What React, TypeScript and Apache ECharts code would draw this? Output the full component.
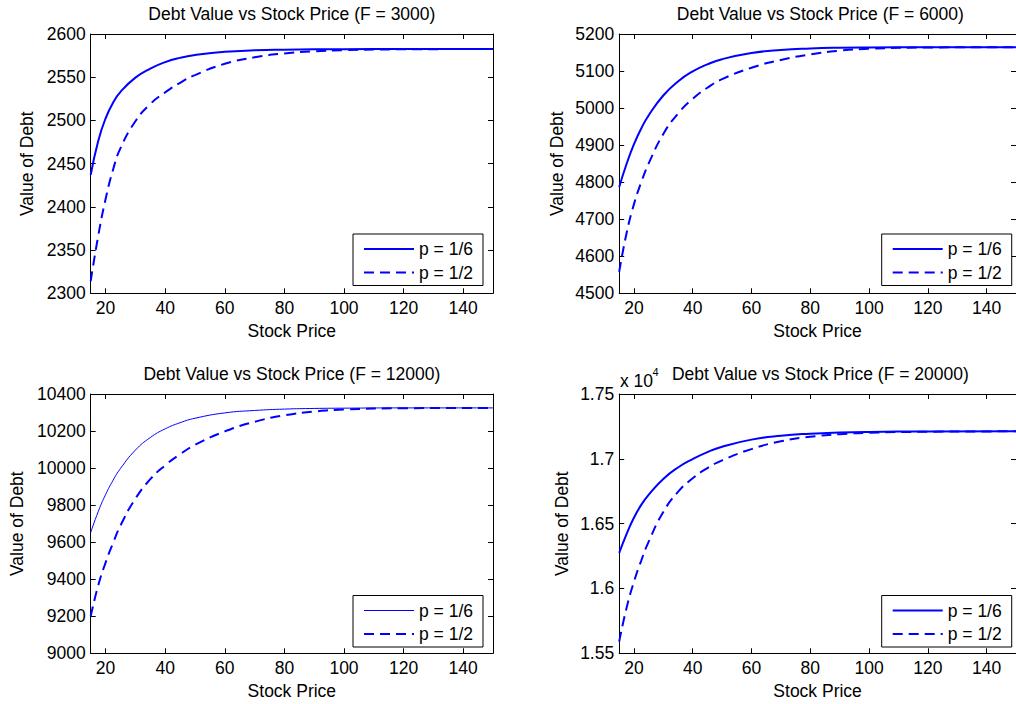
import React, { useEffect, useRef } from "react";
import * as echarts from "echarts";

// ---- data ----
const stockPrice = [15, 17.5, 20, 22.5, 25, 30, 35, 40, 45, 50, 60, 70, 80, 90, 100, 120, 150];

const debtF3000P16 = [2437, 2476, 2502.5, 2520.5, 2533, 2549.5, 2560, 2567.5, 2572.4, 2575.6, 2579.4, 2581.1, 2581.9, 2582.3, 2582.5, 2582.6, 2582.6];
const debtF3000P12 = [2314, 2366, 2409, 2443, 2468, 2499, 2519, 2532.5, 2543.5, 2552.5, 2565.5, 2573, 2577.5, 2580, 2581.3, 2582.3, 2582.6];

const debtF6000P16 = [4787, 4849, 4902, 4945, 4980, 5034, 5072, 5099, 5118, 5132, 5148.5, 5157, 5161, 5163, 5163.8, 5164.3, 5164.5];
const debtF6000P12 = [4558, 4662, 4740, 4800, 4850, 4930, 4985, 5025, 5055, 5078, 5109, 5130, 5145, 5155, 5160, 5163.5, 5164.5];

const debtF12000P16 = [9652, 9764, 9857, 9934, 9998, 10097, 10165, 10212, 10245, 10269, 10298, 10311, 10318.5, 10322, 10323.5, 10325, 10325];
const debtF12000P12 = [9200, 9365, 9490, 9595, 9690, 9835, 9940, 10015, 10075, 10125, 10198, 10250, 10285, 10305, 10316, 10323, 10325];

const debtF20000P16 = [16275, 16420, 16545, 16645, 16722, 16845, 16933, 16998, 17052, 17093, 17148, 17178, 17194, 17203, 17207.5, 17211, 17212];
const debtF20000P12 = [15590, 15850, 16050, 16215, 16360, 16590, 16745, 16850, 16928, 16988, 17075, 17135, 17170, 17190, 17201, 17209, 17212];

const faceValues = [3000, 6000, 12000, 20000];
const seriesP16 = [debtF3000P16, debtF6000P16, debtF12000P16, debtF20000P16];
const seriesP12 = [debtF3000P12, debtF6000P12, debtF12000P12, debtF20000P12];
const legendNames = ["p = 1/6", "p = 1/2"];

const xTicks = [20, 40, 60, 80, 100, 120, 140];
const xMin = 15;
const xMax = 150;
const yMins = [2300, 4500, 9000, 15500];
const yMaxs = [2600, 5200, 10400, 17500];
const yIntervals = [50, 100, 200, 500];

// ---- layout / style ----
const FONT = "'Liberation Sans', Arial, Helvetica, sans-serif";
const FS = 17.5;
const BLUE = "#0000ff";
const gridLeft = [90.7, 619.2, 90.7, 619.2];
const gridTop = [34, 34, 394, 394];
const gridW = 402.3;
const gridH = 259.3;
const titleTop = [5, 5, 365, 365];
const yNameGap = [55, 53, 65, 48];
const legendLeft = [353, 881.7, 353, 881.7];
const legendTop = [234, 234, 595.5, 595.5];
const p16Width = [2, 2, 1, 2];

export default function App() {
  const ref = useRef<HTMLDivElement>(null);

  useEffect(() => {
    if (!ref.current) return;
    const chart = echarts.init(ref.current, null, { renderer: "svg" });

    const textStyle = { fontFamily: FONT, fontSize: FS, color: "#000", fontWeight: "normal" as const };
    const axisLineStyle = { color: "#000", width: 1 };

    const titles: any[] = [];
    const grids: any[] = [];
    const xAxes: any[] = [];
    const yAxes: any[] = [];
    const legends: any[] = [];
    const series: any[] = [];

    for (let i = 0; i < 4; i++) {
      titles.push({
        text: `Debt Value vs Stock Price (F = ${faceValues[i]})`,
        left: gridLeft[i] + gridW / 2,
        top: titleTop[i],
        textAlign: "center",
        padding: 0,
        textStyle,
      });
      grids.push({ left: gridLeft[i], top: gridTop[i], width: gridW, height: gridH, show: false });

      xAxes.push({
        type: "value",
        gridIndex: i,
        position: "bottom",
        min: xMin,
        max: xMax,
        axisLine: { show: true, onZero: false, lineStyle: axisLineStyle },
        axisTick: { show: true, inside: true, length: 5, customValues: xTicks, lineStyle: axisLineStyle },
        axisLabel: { show: true, customValues: xTicks, margin: 6, ...textStyle },
        splitLine: { show: false },
        name: "Stock Price",
        nameLocation: "middle",
        nameGap: 29,
        nameTextStyle: textStyle,
      });
      xAxes.push({
        type: "value",
        gridIndex: i,
        position: "top",
        min: xMin,
        max: xMax,
        axisLine: { show: true, onZero: false, lineStyle: axisLineStyle },
        axisTick: { show: true, inside: true, length: 5, customValues: xTicks, lineStyle: axisLineStyle },
        axisLabel: { show: false },
        splitLine: { show: false },
      });
      yAxes.push({
        type: "value",
        gridIndex: i,
        position: "left",
        min: yMins[i],
        max: yMaxs[i],
        interval: yIntervals[i],
        axisLine: { show: true, onZero: false, lineStyle: axisLineStyle },
        axisTick: { show: true, inside: true, length: 5, lineStyle: axisLineStyle },
        axisLabel: {
          show: true,
          margin: 5,
          ...textStyle,
          formatter: i === 3 ? (v: number) => String(v / 10000) : (v: number) => String(v),
        },
        splitLine: { show: false },
        name: "Value of Debt",
        nameLocation: "middle",
        nameGap: yNameGap[i],
        nameTextStyle: textStyle,
      });
      yAxes.push({
        type: "value",
        gridIndex: i,
        position: "right",
        min: yMins[i],
        max: yMaxs[i],
        interval: yIntervals[i],
        axisLine: { show: true, onZero: false, lineStyle: axisLineStyle },
        axisTick: { show: true, inside: true, length: 5, lineStyle: axisLineStyle },
        axisLabel: { show: false },
        splitLine: { show: false },
      });

      const n16 = `${legendNames[0]}|${i}`;
      const n12 = `${legendNames[1]}|${i}`;
      series.push({
        type: "line",
        name: n16,
        xAxisIndex: 2 * i,
        yAxisIndex: 2 * i,
        data: stockPrice.map((x, k) => [x, seriesP16[i][k]]),
        symbol: "none",
        smooth: 0.5,
        lineStyle: { color: BLUE, width: p16Width[i], type: "solid" },
        itemStyle: { color: BLUE },
        z: 3,
      });
      series.push({
        type: "line",
        name: n12,
        xAxisIndex: 2 * i,
        yAxisIndex: 2 * i,
        data: stockPrice.map((x, k) => [x, seriesP12[i][k]]),
        symbol: "none",
        smooth: 0.5,
        lineStyle: { color: BLUE, width: 2, type: [10, 6] },
        itemStyle: { color: BLUE },
        z: 3,
      });

      legends.push({
        data: [
          { name: n16, lineStyle: { width: p16Width[i] } },
          { name: n12, lineStyle: { width: 2 } },
        ],
        orient: "vertical",
        left: legendLeft[i],
        top: legendTop[i],
        padding: [6, 10, 4, 10],
        itemGap: 5.5,
        itemWidth: 50,
        itemHeight: 14,
        itemStyle: { opacity: 0 },
        borderColor: "#000",
        borderWidth: 1,
        backgroundColor: "#fff",
        selectedMode: false,
        formatter: (name: string) => name.split("|")[0],
        textStyle: { fontFamily: FONT, fontSize: FS, color: "#000" },
        z: 10,
      });
    }

    chart.setOption({
      animation: false,
      backgroundColor: "#fff",
      title: titles,
      grid: grids,
      xAxis: xAxes,
      yAxis: yAxes,
      legend: legends,
      series,
      graphic: [
        {
          type: "text",
          left: 620,
          top: 372,
          style: { text: "x 10", font: `${FS}px ${FONT}`, fill: "#000" },
        },
        {
          type: "text",
          left: 652.5,
          top: 366.5,
          style: { text: "4", font: `11px ${FONT}`, fill: "#000" },
        },
      ],
    });

    return () => chart.dispose();
  }, []);

  return (
    <div
      ref={ref}
      style={{ position: "absolute", left: 0, top: 0, width: 1016, height: 704, background: "#fff" }}
    />
  );
}
